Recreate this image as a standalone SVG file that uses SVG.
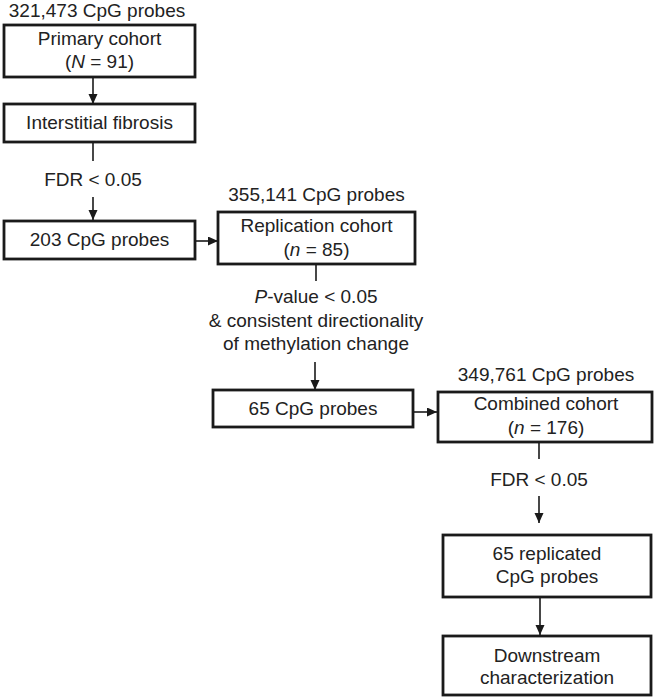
<svg xmlns="http://www.w3.org/2000/svg" width="656" height="699" viewBox="0 0 656 699">
<defs>
<style>
.box{fill:#fff;stroke:#1a1a1a;stroke-width:2.8}
.t{font-family:"Liberation Sans",Arial,sans-serif;font-size:19px;fill:#222;text-anchor:middle}
.c{stroke:#1a1a1a;stroke-width:1.6;fill:none}
</style>
<marker id="ah" markerUnits="userSpaceOnUse" markerWidth="10" markerHeight="10" refX="10" refY="4.5" orient="auto">
<path d="M0,0 L10,4.5 L0,9 z" fill="#1a1a1a"/>
</marker>
</defs>
<rect width="656" height="699" fill="#fff"/>
<g id="connectors">
<line class="c" x1="93" y1="77" x2="93" y2="104" marker-end="url(#ah)"/>
<line class="c" x1="93" y1="142" x2="93" y2="161"/>
<line class="c" x1="93" y1="197" x2="93" y2="220" marker-end="url(#ah)"/>
<line class="c" x1="195" y1="241" x2="218" y2="241" marker-end="url(#ah)"/>
<line class="c" x1="316" y1="264" x2="316" y2="281"/>
<line class="c" x1="315" y1="362" x2="315" y2="390" marker-end="url(#ah)"/>
<line class="c" x1="413" y1="412" x2="437" y2="412" marker-end="url(#ah)"/>
<line class="c" x1="539" y1="442" x2="539" y2="459"/>
<line class="c" x1="539" y1="496" x2="539" y2="523" marker-end="url(#ah)"/>
<line class="c" x1="540" y1="597" x2="540" y2="635" marker-end="url(#ah)"/>
</g>
<g id="primary">
<text class="t" x="97" y="17">321,473 CpG probes</text>
<rect class="box" x="4" y="25" width="191" height="52"/>
<text class="t" x="99.5" y="45">Primary cohort</text>
<text class="t" x="99.5" y="68">(<tspan font-style="italic">N</tspan> = 91)</text>
</g>
<g id="fibrosis">
<rect class="box" x="4" y="104" width="191" height="38"/>
<text class="t" x="99.5" y="129">Interstitial fibrosis</text>
</g>
<g id="label-fdr1">
<text class="t" x="93" y="186">FDR &lt; 0.05</text>
</g>
<g id="probes203">
<rect class="box" x="4" y="221" width="191" height="38"/>
<text class="t" x="99.5" y="246">203 CpG probes</text>
</g>
<g id="replication">
<text class="t" x="316.5" y="201">355,141 CpG probes</text>
<rect class="box" x="218" y="212" width="197" height="52"/>
<text class="t" x="316.5" y="232">Replication cohort</text>
<text class="t" x="316.5" y="256">(<tspan font-style="italic">n</tspan> = 85)</text>
</g>
<g id="label-pvalue">
<text class="t" x="316" y="303"><tspan font-style="italic">P</tspan>-value &lt; 0.05</text>
<text class="t" x="316" y="327">&amp; consistent directionality</text>
<text class="t" x="316" y="350">of methylation change</text>
</g>
<g id="probes65">
<rect class="box" x="213" y="390" width="200" height="37"/>
<text class="t" x="313" y="415">65 CpG probes</text>
</g>
<g id="combined">
<text class="t" x="546" y="381">349,761 CpG probes</text>
<rect class="box" x="438" y="392" width="214" height="50"/>
<text class="t" x="546" y="410">Combined cohort</text>
<text class="t" x="546" y="434">(<tspan font-style="italic">n</tspan> = 176)</text>
</g>
<g id="label-fdr2">
<text class="t" x="539" y="486">FDR &lt; 0.05</text>
</g>
<g id="replicated">
<rect class="box" x="443" y="535" width="208" height="62"/>
<text class="t" x="547" y="560">65 replicated</text>
<text class="t" x="547" y="583">CpG probes</text>
</g>
<g id="downstream">
<rect class="box" x="443" y="636" width="208" height="59"/>
<text class="t" x="547" y="662">Downstream</text>
<text class="t" x="547" y="684">characterization</text>
</g>
</svg>
